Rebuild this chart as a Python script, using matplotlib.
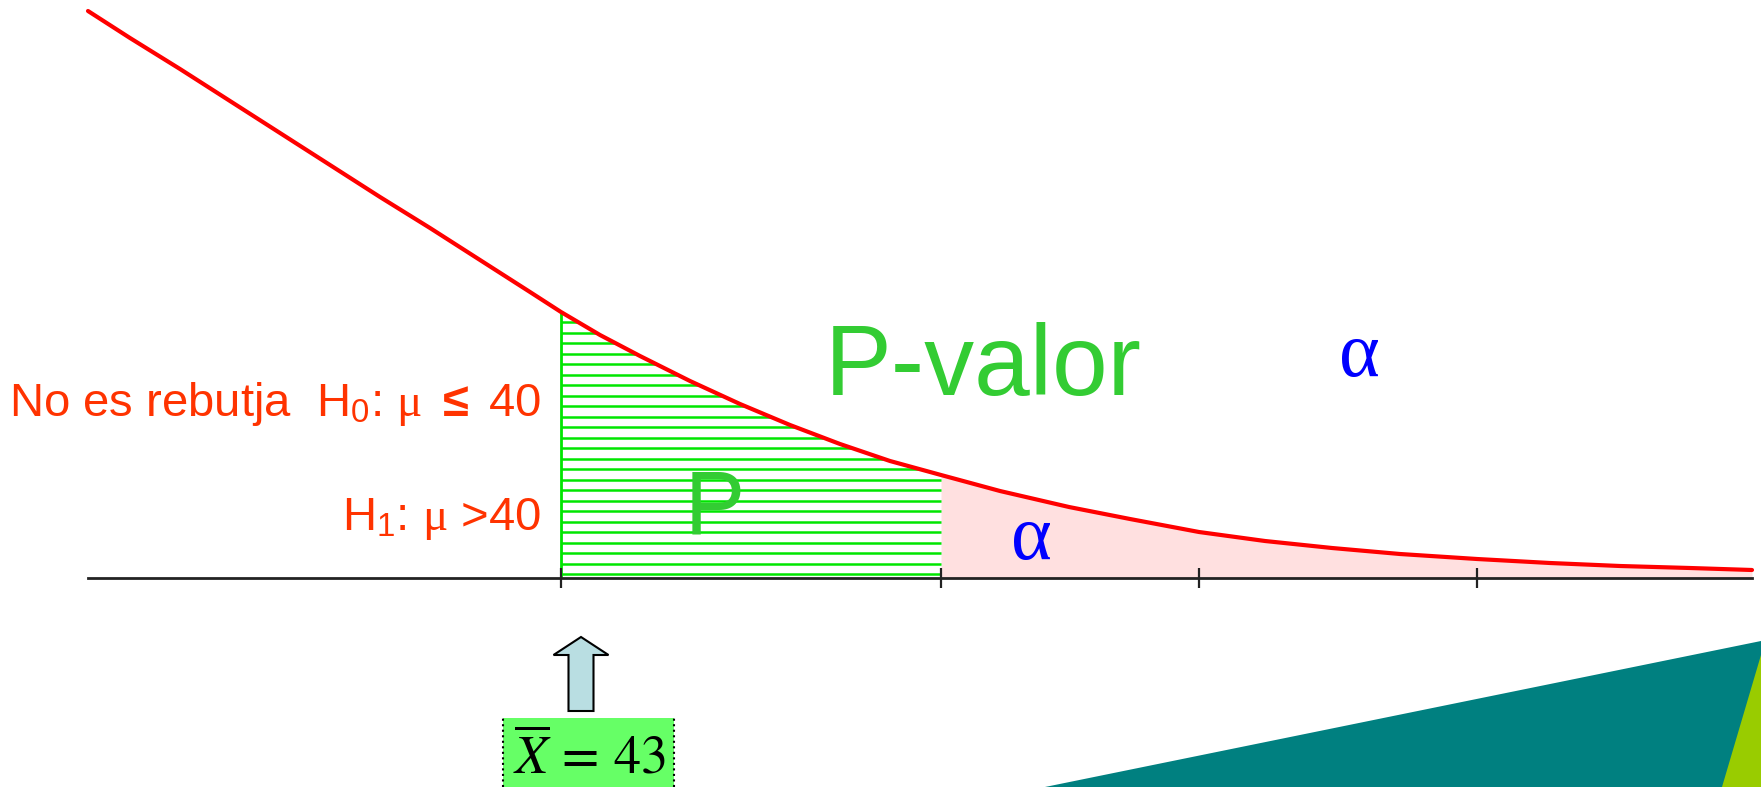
import numpy as np
import matplotlib
matplotlib.use('Agg')
import matplotlib.pyplot as plt
from matplotlib.patches import FancyArrow, Rectangle, Polygon

# Curve (x along the axis, y = height above the axis)
curve_x = [0.00, 0.42, 0.92, 1.42, 1.92, 2.42, 2.92, 3.42, 3.92, 4.42, 4.73,
           5.12, 5.52, 6.02, 6.52, 7.02, 7.52, 8.02, 8.53, 9.12, 9.81, 10.42,
           11.11, 11.77, 12.44, 13.12, 13.89, 14.62, 15.32, 16.02, 16.64]
curve_y = [5.67, 5.40, 5.09, 4.77, 4.45, 4.13, 3.81, 3.50, 3.18, 2.86, 2.66,
           2.43, 2.22, 1.97, 1.74, 1.53, 1.34, 1.17, 1.03, 0.87, 0.71, 0.59,
           0.46, 0.37, 0.30, 0.24, 0.19, 0.15, 0.12, 0.10, 0.08]

tick_x = [4.73, 8.53, 11.11, 13.89]
x_bar = 4.73     # observed mean (X = 43)
x_crit = 8.53    # critical value, start of alpha region
axis_end = 16.64

label_h0 = r'No es rebutja  H$_0$: $\mu$ $\mathbf{\leq}$ 40'
label_h1 = r'H$_1$: $\mu$ >40'
label_pval = 'P-valor'
label_p = 'P'
label_alpha = 'α'
label_xbar = r'$\overline{X}\,=\,43$'

plt.rcParams['mathtext.rm'] = 'Liberation Sans'
plt.rcParams['mathtext.it'] = 'Liberation Serif'
plt.rcParams['mathtext.bf'] = 'Liberation Sans:bold'

x = np.array(curve_x)
y = np.array(curve_y)

fig = plt.figure(figsize=(17.61, 7.87), dpi=100)
ax = fig.add_axes([0, 0, 1, 1])
ax.set_xlim(-0.88, 16.73)
ax.set_ylim(-2.09, 5.78)
ax.axis('off')

# alpha region (pink)
ax.fill_between(x, y, 0, where=x >= x_crit, interpolate=True,
                color='#FFE0E0', lw=0, zorder=1)

# P region: horizontal green hatch lines under the curve
levels = np.arange(0.04, np.interp(x_bar, x, y), 0.105)
ends = np.minimum(x_crit, np.interp(levels, y[::-1], x[::-1]))
ax.hlines(levels, x_bar, ends, color='#00E600', lw=1.8, zorder=2)
ax.vlines(x_bar, 0, np.interp(x_bar, x, y), color='#00E600', lw=2, zorder=2)

# axis and ticks
ax.plot([0, axis_end], [0, 0], color='#222222', lw=2, zorder=3)
ax.vlines(tick_x, -0.1, 0.1, color='#222222', lw=1.6, zorder=3)

# curve
ax.plot(x, y, color='red', lw=3, zorder=4, solid_capstyle='round',
        solid_joinstyle='round')

# texts
red = '#FF3300'
ax.text(4.53, 1.62, label_h0, color=red, fontsize=34, family='Liberation Sans',
        math_fontfamily='custom', ha='right', va='baseline')
ax.text(4.53, 0.48, label_h1, color=red, fontsize=34, family='Liberation Sans',
        math_fontfamily='custom', ha='right', va='baseline')
ax.text(7.37, 1.83, label_pval, color='#33CC33', fontsize=72,
        family='Liberation Sans', va='baseline')
ax.text(5.97, 0.45, label_p, color='#33CC33', fontsize=65,
        family='Liberation Sans', va='baseline', zorder=5)
ax.text(12.51, 2.02, label_alpha, color='#0000FF', fontsize=56,
        family='Liberation Serif', va='baseline')
ax.text(9.23, 0.19, label_alpha, color='#0000FF', fontsize=56,
        family='Liberation Serif', va='baseline', zorder=5)

# arrow pointing at the observed mean
ax.add_patch(FancyArrow(4.93, -1.33, 0, 0.74, width=0.25, head_width=0.55,
                        head_length=0.18, length_includes_head=True,
                        fc='#B9DEE2', ec='black', lw=1.5, zorder=5))

# box with X bar = 43
ax.add_patch(Rectangle((4.15, -2.09), 1.71, 0.69, fc='#66FF66', ec='none', zorder=5))
ax.vlines([4.15, 5.86], -2.09, -1.40, color='black', lw=1.5, ls=':', zorder=6)
ax.text(4.25, -1.96, label_xbar, fontsize=39, math_fontfamily='stix',
        va='baseline', zorder=7)

# slide decoration, bottom right
ax.add_patch(Polygon([(9.57, -2.09), (16.73, -0.63), (16.73, -2.09)],
                     closed=True, fc='#008080', ec='none', zorder=1))
ax.add_patch(Polygon([(16.34, -2.09), (16.73, -0.77), (16.73, -2.09)],
                     closed=True, fc='#99CC00', ec='none', zorder=2))

fig.savefig('out.png', dpi=100)
